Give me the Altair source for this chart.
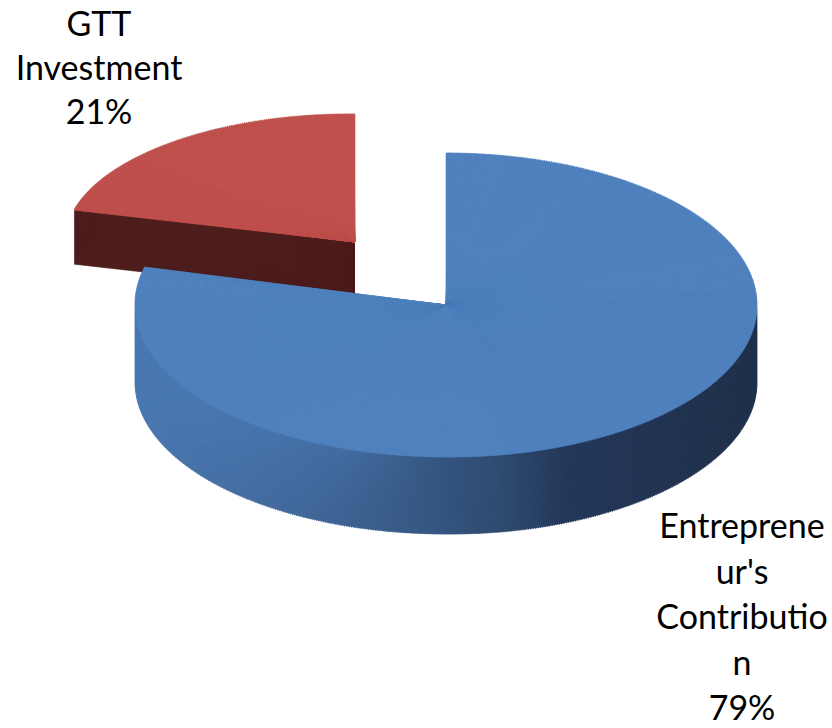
import altair as alt
import pandas as pd

# ---- data -------------------------------------------------------------
categories = ["Entrepreneur's Contribution", "GTT Investment"]
values = [79, 21]
label_lines = [["Entreprene", "ur's", "Contributio", "n"], ["GTT", "Investment"]]

total = sum(values)
labels = ["\n".join(lines + [f"{round(100 * v / total)}%"]) for lines, v in zip(label_lines, values)]
df = pd.DataFrame({
    "category": categories,
    "value": values,
    "order": list(range(len(categories))),
    "label": labels,
})

STEP = 0.008  # angular resolution of the sub-wedges (radians)

base = (
    alt.Chart(df)
    .transform_window(cum="sum(value)", sort=[alt.SortField("order")], frame=[None, 0])
    .transform_joinaggregate(total="sum(value)")
    .transform_calculate(phi0="2*PI*(datum.cum - datum.value)/datum.total")
    .transform_calculate(phi1="2*PI*datum.cum/datum.total")
)


def theta_expr(field, A, B):
    raw = f"atan2({A}*sin(datum.{field}), {B}*cos(datum.{field}))"
    return f"{raw} + 2*PI*round((datum.{field} - ({raw}))/(2*PI))"


def wedges(cat, A, B):
    return (
        base.transform_filter(alt.datum.category == cat)
        .transform_calculate(n=f"ceil((datum.phi1 - datum.phi0)/{STEP})")
        .transform_calculate(k="sequence(0, datum.n)")
        .transform_flatten(["k"])
        .transform_calculate(a0=f"datum.phi0 + datum.k*{STEP}")
        .transform_calculate(b1=f"min(datum.phi0 + (datum.k+1)*{STEP}, datum.phi1)")
        .transform_calculate(a1="min(datum.b1 + 0.004, datum.phi1)")
        .transform_calculate(am="(datum.a0 + datum.b1)/2")
        .transform_calculate(t0=theta_expr("a0", A, B))
        .transform_calculate(t1=theta_expr("a1", A, B))
        .transform_calculate(r=f"sqrt(pow({A}*sin(datum.am),2) + pow({B}*cos(datum.am),2))")
    )


def enc_common(cx):
    return dict(
        theta=alt.Theta("t0:Q", scale=None, stack=None),
        theta2=alt.Theta2("t1:Q"),
        radius=alt.Radius("r:Q", scale=None, stack=None),
        x=alt.value(cx),
    )


def slice_layers(cat, cx, cy, A, B, depth, top_color, side_filter, copies,
                 side_color=None, side_scale=None):
    w = wedges(cat, A, B)
    dstep = depth / copies
    side = (
        w.transform_filter(side_filter)
        .transform_calculate(d=f"sequence({dstep}, {depth + 0.01}, {dstep})")
        .transform_flatten(["d"])
        .transform_calculate(yc=f"{cy} + datum.d")
        .transform_calculate(shade="sin(datum.am)")
    )
    y_side = alt.Y("yc:Q", scale=None, axis=None, stack=None)
    if side_scale is not None:
        side_chart = side.mark_arc(strokeWidth=0.6).encode(
            y=y_side,
            fill=alt.Fill("shade:Q", scale=side_scale, legend=None),
            stroke=alt.Stroke("shade:Q", scale=side_scale, legend=None),
            **enc_common(cx),
        )
    else:
        side_chart = side.mark_arc(fill=side_color, stroke=side_color, strokeWidth=0.6).encode(
            y=y_side, **enc_common(cx)
        )
    top_chart = w.mark_arc(fill=top_color, stroke=top_color, strokeWidth=0.6).encode(
        y=alt.value(cy), **enc_common(cx)
    )
    return [side_chart, top_chart]


def label_layer(cat, x, y, line_height):
    return (
        alt.Chart(df)
        .transform_filter(alt.datum.category == cat)
        .mark_text(
            font="Lato", fontSize=34, color="#000000", align="center",
            baseline="alphabetic", lineBreak="\n", lineHeight=line_height,
        )
        .encode(text="label:N", x=alt.value(x), y=alt.value(y))
    )


blue_side_scale = alt.Scale(
    domain=[-1, -0.5, 0, 0.2, 0.4, 1],
    range=["#4a78b1", "#42699c", "#34557f", "#2e4a6e", "#24385a", "#20314b"],
)

red_layers = slice_layers(
    categories[1], 355, 242, 290, 128, 54, "#c0504d",
    side_filter="datum.am < datum.phi0 + 0.5", copies=27, side_color="#4f1f1e",
)
blue_layers = slice_layers(
    categories[0], 446, 305, 311, 152, 77, "#4f81bd",
    side_filter="cos(datum.am) < 0.2", copies=7, side_scale=blue_side_scale,
)

chart = alt.layer(
    *red_layers,
    *blue_layers,
    label_layer(categories[1], 99, 36, 44),
    label_layer(categories[0], 742, 538, 45.5),
).properties(
    width=832, height=728, padding=0, autosize="none", background="#ffffff"
).configure_view(strokeWidth=0)

chart.save("out.html", embed_options={"renderer": "svg", "actions": False})
